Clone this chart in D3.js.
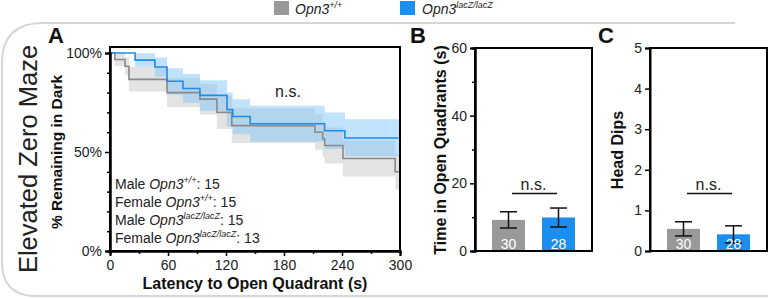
<!DOCTYPE html>
<html><head><meta charset="utf-8">
<script src="https://cdn.jsdelivr.net/npm/d3@7"></script>
<style>
body{margin:0;background:#fff;}
svg{display:block;font-family:"Liberation Sans",Arial,Helvetica,sans-serif;}
</style></head>
<body><svg id="c" width="768" height="299"></svg>
<script>
// ---- Data ----
const groups = ["Opn3+/+", "Opn3lacZ/lacZ"];
const groupSup = ["+/+", "lacZ/lacZ"];
const groupN = [30, 28];
const countLabels = [["Male", "+/+", 15], ["Female", "+/+", 15], ["Male", "lacZ/lacZ", 15], ["Female", "lacZ/lacZ", 13]];

// Kaplan-Meier style curves (time s, % remaining), with shaded band
const grayTimes = [0, 5, 15.5, 19.6, 59, 93, 110.6, 126, 212, 220, 222, 241, 295, 300];
const graySurv  = [100, 96.7, 93.3, 86.7, 80.0, 76.7, 70.0, 63.3, 60.0, 56.7, 53.3, 46.7, 40.0, 40.0];
const grayUpper = [100, 99.9, 97.9, 92.9, 87.3, 84.4, 78.4, 72.1, 68.9, 65.7, 62.4, 55.8, 48.9, 48.9];
const grayLower = [100, 93.4, 88.8, 80.5, 72.7, 69.0, 61.6, 54.5, 51.1, 47.6, 44.2, 37.6, 31.1, 31.1];

const blueTimes = [0, 26, 46.5, 59, 75.5, 93, 121, 127, 145, 222, 243, 300];
const blueSurv  = [100, 96.4, 92.9, 85.7, 82.1, 78.6, 71.4, 67.9, 64.3, 60.7, 57.1, 57.1];
const blueUpper = [100, 99.9, 97.7, 92.3, 89.4, 86.3, 80.0, 76.7, 73.3, 70.0, 66.5, 66.5];
const blueLower = [100, 92.9, 88.0, 79.1, 74.9, 70.8, 62.9, 59.0, 55.2, 51.5, 47.8, 47.8];

const xTicksA = [0, 60, 120, 180, 240, 300];
const xMinorA = [30, 90, 150, 210, 270];
const yTicksA = [0, 50, 100];
const yMinorA = [10, 20, 30, 40, 60, 70, 80, 90];

const timeMeans = [9.2, 9.9];
const timeErr = [2.4, 2.8];
const yTicksB = [0, 20, 40, 60];
const yMinorB = [10, 30, 50];

const headMeans = [0.545, 0.41];
const headErr = [0.175, 0.21];
const yTicksC = [0, 1, 2, 3, 4, 5];

// ---- Style ----
const GRAY = "#999999", BLUE = "#1a8ff0";
const GRAY_LINE = "#8a8a8a", BLUE_LINE = "#1f8ce8";
const svg = d3.select("#c");

// Outer rounded frame
svg.append("path")
  .attr("d", "M735,23 L43,23 Q2,23 2,63 L2,262 Q2,296 36,296 L768,296")
  .attr("fill", "none").attr("stroke", "#d6d6d6").attr("stroke-width", 2);

// Legend
function supText(sel, x, y, base, sup, size, italic) {
  const t = sel.append("text").attr("x", x).attr("y", y).attr("font-size", size).attr("fill", "#222");
  return t;
}
const legX = [274, 400], legTX = [295, 422];
groups.forEach((g, i) => {
  svg.append("rect").attr("x", legX[i]).attr("y", 1).attr("width", 15).attr("height", 14)
    .attr("fill", i ? BLUE : GRAY);
  const t = svg.append("text").attr("x", legTX[i]).attr("y", 13.5).attr("font-size", 14)
    .attr("font-style", "italic").attr("fill", "#222");
  t.append("tspan").text("Opn3");
  t.append("tspan").attr("font-size", 9).attr("dy", -6).text(groupSup[i]);
});

// Big vertical title
svg.append("text").attr("transform", "translate(37,159) rotate(-90)")
  .attr("text-anchor", "middle").attr("font-size", 25.5).attr("fill", "#222")
  .text("Elevated Zero Maze");

// Panel letters
[["A", 48], ["B", 410], ["C", 598]].forEach(([l, x]) => {
  svg.append("text").attr("x", x).attr("y", 43).attr("font-size", 22).attr("font-weight", "bold").attr("fill", "#111").text(l);
});

// ---- Panel A ----
const xA = d3.scaleLinear().domain([0, 300]).range([110, 400]);
const yA = d3.scaleLinear().domain([0, 100]).range([251, 53]);
const gA = svg.append("g");

function band(times, lo, hi) {
  return d3.area().curve(d3.curveStepAfter)
    .x((d, i) => xA(times[i])).y0((d, i) => yA(lo[i])).y1((d, i) => yA(hi[i]))(times);
}
function line(times, s) {
  return d3.line().curve(d3.curveStepAfter).x((d, i) => xA(times[i])).y((d, i) => yA(s[i]))(times);
}
gA.append("path").attr("d", band(grayTimes, grayLower, grayUpper)).attr("fill", "rgb(150,150,150)").attr("fill-opacity", 0.27);
gA.append("path").attr("d", band(blueTimes, blueLower, blueUpper)).attr("fill", "rgb(130,197,245)").attr("fill-opacity", 0.5);
gA.append("path").attr("d", line(grayTimes, graySurv)).attr("fill", "none").attr("stroke", GRAY_LINE).attr("stroke-width", 1.6);
gA.append("path").attr("d", line(blueTimes, blueSurv)).attr("fill", "none").attr("stroke", BLUE_LINE).attr("stroke-width", 1.6);

// frame A
gA.append("rect").attr("x", 110).attr("y", 47).attr("width", 290).attr("height", 204)
  .attr("fill", "none").attr("stroke", "#000").attr("stroke-width", 2);

const axA = gA.append("g").attr("transform", "translate(0,251)")
  .call(d3.axisBottom(xA).tickValues(xTicksA).tickSize(5).tickPadding(4).tickFormat(d3.format("d")));
gA.append("g").attr("transform", "translate(0,251)")
  .call(d3.axisBottom(xA).tickValues(xMinorA).tickSize(3).tickFormat(""));
const ayA = gA.append("g").attr("transform", "translate(110,0)")
  .call(d3.axisLeft(yA).tickValues(yTicksA).tickSize(5).tickPadding(3).tickFormat(d => d + "%"));
gA.append("g").attr("transform", "translate(110,0)")
  .call(d3.axisLeft(yA).tickValues(yMinorA).tickSize(3).tickFormat(""));

gA.append("text").attr("x", 255).attr("y", 289).attr("text-anchor", "middle")
  .attr("font-size", 16).attr("font-weight", "bold").attr("fill", "#111").text("Latency to Open Quadrant (s)");
gA.append("text").attr("transform", "translate(62,152) rotate(-90)").attr("text-anchor", "middle")
  .attr("font-size", 15.5).attr("font-weight", "bold").attr("fill", "#111").text("% Remaining in Dark");
gA.append("text").attr("x", 288).attr("y", 97).attr("text-anchor", "middle").attr("font-size", 16).attr("fill", "#222").text("n.s.");

countLabels.forEach((c, i) => {
  const t = gA.append("text").attr("x", 115).attr("y", 189 + i * 18).attr("font-size", 14).attr("fill", "#222");
  t.append("tspan").text(c[0] + " ");
  t.append("tspan").attr("font-style", "italic").text("Opn3");
  t.append("tspan").attr("font-style", "italic").attr("font-size", 9).attr("dy", -6).text(c[1]);
  t.append("tspan").attr("dy", 6).text(": " + c[2]);
});

// ---- Bar panels ----
function barPanel(x0, x1, yMax, ticks, minor, means, errs, title, titleX) {
  const g = svg.append("g");
  const x = d3.scaleBand().domain(groups).range([x0, x1]).paddingInner(0.34).paddingOuter(0.34);
  const y = d3.scaleLinear().domain([0, yMax]).range([251, 48]);
  g.selectAll(".bar").data(groups).join("rect")
    .attr("x", d => x(d)).attr("width", x.bandwidth())
    .attr("y", (d, i) => y(means[i])).attr("height", (d, i) => y(0) - y(means[i]))
    .attr("fill", (d, i) => i ? BLUE : GRAY);
  groups.forEach((d, i) => {
    const cx = x(d) + x.bandwidth() / 2;
    const top = y(means[i] + errs[i]), bot = y(means[i] - errs[i]);
    g.append("line").attr("x1", cx).attr("x2", cx).attr("y1", top).attr("y2", bot).attr("stroke", "#111").attr("stroke-width", 1.5);
    [top, bot].forEach(yy => g.append("line").attr("x1", cx - 8.5).attr("x2", cx + 8.5).attr("y1", yy).attr("y2", yy).attr("stroke", "#111").attr("stroke-width", 1.5));
    g.append("text").attr("x", cx).attr("y", 249).attr("text-anchor", "middle").attr("font-size", 14).attr("fill", "#fff").text(groupN[i]);
  });
  g.append("rect").attr("x", x0).attr("y", 48).attr("width", x1 - x0).attr("height", 203)
    .attr("fill", "none").attr("stroke", "#000").attr("stroke-width", 2);
  g.append("g").attr("transform", `translate(${x0},0)`)
    .call(d3.axisLeft(y).tickValues(ticks).tickSize(5).tickPadding(3).tickFormat(d3.format("d")));
  if (minor.length) g.append("g").attr("transform", `translate(${x0},0)`)
    .call(d3.axisLeft(y).tickValues(minor).tickSize(3).tickFormat(""));
  const c0 = x(groups[0]) + x.bandwidth() / 2, c1 = x(groups[1]) + x.bandwidth() / 2;
  g.append("line").attr("x1", c0 + 3.5).attr("x2", c1 - 1.5).attr("y1", 193.5).attr("y2", 193.5).attr("stroke", "#111").attr("stroke-width", 1.5);
  g.append("text").attr("x", (c0 + c1) / 2).attr("y", 189.5).attr("text-anchor", "middle").attr("font-size", 16).attr("fill", "#222").text("n.s.");
  g.append("text").attr("transform", `translate(${titleX},150) rotate(-90)`).attr("text-anchor", "middle")
    .attr("font-size", 16).attr("font-weight", "bold").attr("fill", "#111").text(title);
  return g;
}
barPanel(475, 592, 60, yTicksB, yMinorB, timeMeans, timeErr, "Time in Open Quadrants (s)", 446);
barPanel(650, 767, 5, yTicksC, [], headMeans, headErr, "Head Dips", 623);

// axis styling
svg.selectAll(".domain").attr("stroke", "#000").attr("stroke-width", 2);
svg.selectAll(".tick line").attr("stroke", "#000").attr("stroke-width", 1.5);
svg.selectAll(".tick text").attr("font-size", 14).attr("fill", "#222").attr("font-family", "'Liberation Sans',Arial,sans-serif");
</script></body></html>
